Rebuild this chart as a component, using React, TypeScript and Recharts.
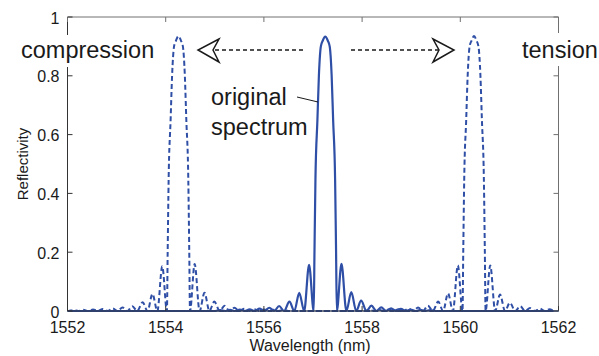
import { LineChart, Line, XAxis, YAxis, ReferenceLine, Label } from "recharts";

// axis ticks
const X_TICKS = [1552, 1554, 1556, 1558, 1560, 1562];
const Y_TICKS = [0, 0.2, 0.4, 0.6, 0.8, 1];

// Bragg wavelengths (nm) of the three spectra
const ORIGINAL_CENTER = 1557.25;
const COMPRESSION_CENTER = 1554.26;
const TENSION_CENTER = 1560.28;

// sample positions relative to each Bragg wavelength (nm)
const OFFSETS = [
  -2.24, -2.14, -2.04, -1.94, -1.84, -1.74, -1.64, -1.54, -1.44, -1.34, -1.24, -1.14, -1.04, -0.94,
  -0.84, -0.73, -0.63, -0.53, -0.43, -0.33, -0.235, -0.22, -0.2, -0.16, -0.13, -0.09, -0.05, 0,
  0.05, 0.09, 0.13, 0.16, 0.2, 0.22, 0.235, 0.33, 0.43, 0.53, 0.63, 0.73, 0.84, 0.94, 1.04, 1.14,
  1.24, 1.34, 1.44, 1.54, 1.64, 1.74, 1.84, 1.94, 2.04, 2.14, 2.24,
];

// reflectivity
const ORIGINAL_R = [
  0, 0.003, 0, 0.004, 0, 0.005, 0, 0.006, 0, 0.008, 0, 0.011, 0, 0.017,
  0, 0.032, 0, 0.062, 0, 0.157, 0, 0.2, 0.45, 0.65, 0.8, 0.9, 0.92, 0.933,
  0.92, 0.9, 0.8, 0.65, 0.45, 0.2, 0, 0.16, 0, 0.064, 0, 0.035, 0, 0.018, 0, 0.012,
  0, 0.009, 0, 0.007, 0, 0.005, 0, 0.004, 0, 0.003, 0,
];
const COMPRESSION_R = [
  0, 0.003, 0, 0.004, 0, 0.005, 0, 0.007, 0, 0.009, 0, 0.012, 0, 0.016,
  0, 0.03, 0, 0.058, 0, 0.152, 0, 0.2, 0.45, 0.65, 0.8, 0.9, 0.92, 0.935,
  0.92, 0.9, 0.8, 0.65, 0.45, 0.2, 0, 0.16, 0, 0.062, 0, 0.032, 0, 0.018, 0, 0.011,
  0, 0.008, 0, 0.006, 0, 0.005, 0, 0.004, 0, 0.003, 0,
];
const TENSION_R = [
  0, 0.003, 0, 0.004, 0, 0.005, 0, 0.006, 0, 0.008, 0, 0.012, 0, 0.018,
  0, 0.032, 0, 0.06, 0, 0.155, 0, 0.2, 0.45, 0.65, 0.8, 0.9, 0.92, 0.935,
  0.92, 0.9, 0.8, 0.65, 0.45, 0.2, 0, 0.155, 0, 0.056, 0, 0.028, 0, 0.016, 0, 0.01,
  0, 0.008, 0, 0.006, 0, 0.005, 0, 0.004, 0, 0.003, 0,
];

const X_MIN = 1552;
const X_MAX = 1562;

const W = 599;
const H = 356;
const PLOT_TOP = 17;
const PLOT_LEFT = 67.5;
const PLOT_RIGHT = 558.5;
const PLOT_BOTTOM = 311;

const BLUE = "#2f4fa6";
const INK = "#1a1a1a";
const AXIS = "#333";
const BOX = "#707070";
const FONT = "'Liberation Sans', Arial, sans-serif";

function toSeries(center: number, r: number[]) {
  const pts = OFFSETS.map((o, i) => ({ wl: +(center + o).toFixed(3), r: r[i] })).filter(
    (p) => p.wl > X_MIN && p.wl < X_MAX
  );
  return [{ wl: X_MIN, r: 0 }, ...pts, { wl: X_MAX, r: 0 }];
}

const original = toSeries(ORIGINAL_CENTER, ORIGINAL_R);
const compression = toSeries(COMPRESSION_CENTER, COMPRESSION_R);
const tension = toSeries(TENSION_CENTER, TENSION_R);

function XTick(props: any) {
  const { x, y, payload } = props;
  return (
    <g>
      <line x1={x} x2={x} y1={y} y2={y - 5} stroke={AXIS} />
      <line x1={x} x2={x} y1={PLOT_TOP} y2={PLOT_TOP + 5} stroke={BOX} />
      <text x={x} y={y + 22} textAnchor="middle" fontSize={16} fontFamily={FONT} fill={INK}>
        {payload.value}
      </text>
    </g>
  );
}

function YTick(props: any) {
  const { x, y, payload } = props;
  return (
    <g>
      <line x1={x} x2={x + 5} y1={y} y2={y} stroke={AXIS} />
      <line x1={PLOT_RIGHT} x2={PLOT_RIGHT - 5} y1={y} y2={y} stroke={BOX} />
      <text x={x - 8} y={y + 6.5} textAnchor="end" fontSize={16} fontFamily={FONT} fill={INK}>
        {payload.value}
      </text>
    </g>
  );
}

function XTitle(props: any) {
  const { viewBox } = props;
  return (
    <text
      x={viewBox.x + viewBox.width / 2 - 3}
      y={viewBox.y + 40}
      textAnchor="middle"
      fontSize={16}
      fontFamily={FONT}
      fill={INK}
    >
      Wavelength (nm)
    </text>
  );
}

function YTitle(props: any) {
  const { viewBox } = props;
  const cx = 22;
  const cy = viewBox.y + viewBox.height / 2;
  return (
    <text
      x={cx}
      y={cy}
      transform={`rotate(-90, ${cx}, ${cy})`}
      textAnchor="middle"
      dominantBaseline="central"
      fontSize={15}
      fontFamily={FONT}
      fill={INK}
    >
      Reflectivity
    </text>
  );
}

// annotation layer: labels and strain arrows
function Annotations() {
  const txt = { fontSize: 23.5, fontFamily: FONT, fill: INK };
  return (
    <svg width={W} height={H} style={{ position: "absolute", left: 0, top: 0, pointerEvents: "none" }}>
      <rect x={18} y={35} width={140} height={32} fill="#fff" />
      <text x={21} y={58} {...txt}>compression</text>
      <rect x={518} y={33} width={81} height={33} fill="#fff" />
      <text x={522} y={58} {...txt}>tension</text>

      <line x1={215} y1={50} x2={303} y2={50} stroke={INK} strokeWidth={1.4} strokeDasharray="4 3" />
      <path d="M219,39 L198,50 L219,62 L213,50 Z" fill="#fff" stroke={INK} strokeWidth={1.5} strokeLinejoin="miter" />
      <line x1={351} y1={50} x2={439} y2={50} stroke={INK} strokeWidth={1.4} strokeDasharray="4 3" />
      <path d="M433,39 L454,50 L433,62 L439,50 Z" fill="#fff" stroke={INK} strokeWidth={1.5} strokeLinejoin="miter" />

      <text x={211} y={105} {...txt}>original</text>
      <text x={211} y={135} {...txt}>spectrum</text>
      <line x1={297} y1={97} x2={318} y2={102} stroke={INK} strokeWidth={1} />
    </svg>
  );
}

export default function App() {
  return (
    <div style={{ position: "relative", width: W, height: H, background: "#fff" }}>
      <style>{"body{margin:0}"}</style>
      <LineChart
        width={W}
        height={H}
        margin={{ top: PLOT_TOP, right: W - PLOT_RIGHT, bottom: 0, left: 0 }}
      >
        <XAxis
          dataKey="wl"
          type="number"
          domain={[X_MIN, X_MAX]}
          ticks={X_TICKS}
          allowDataOverflow
          height={H - PLOT_BOTTOM}
          tickSize={0}
          tickMargin={0}
          tickLine={false}
          axisLine={{ stroke: AXIS }}
          tick={<XTick />}
          interval={0}
        >
          <Label content={<XTitle />} />
        </XAxis>
        <YAxis
          type="number"
          domain={[0, 1]}
          ticks={Y_TICKS}
          width={PLOT_LEFT}
          tickSize={0}
          tickMargin={0}
          tickLine={false}
          axisLine={{ stroke: AXIS }}
          tick={<YTick />}
          interval={0}
        >
          <Label content={<YTitle />} />
        </YAxis>
        <ReferenceLine y={1} stroke={BOX} />
        <ReferenceLine x={X_MAX} stroke={BOX} />
        <Line
          data={compression}
          dataKey="r"
          type="monotone"
          stroke={BLUE}
          strokeWidth={2}
          strokeDasharray="5 3"
          dot={false}
          activeDot={false}
          isAnimationActive={false}
        />
        <Line
          data={tension}
          dataKey="r"
          type="monotone"
          stroke={BLUE}
          strokeWidth={2}
          strokeDasharray="5 3"
          dot={false}
          activeDot={false}
          isAnimationActive={false}
        />
        <Line
          data={original}
          dataKey="r"
          type="monotone"
          stroke={BLUE}
          strokeWidth={2.2}
          dot={false}
          activeDot={false}
          isAnimationActive={false}
        />
      </LineChart>
      <Annotations />
    </div>
  );
}
